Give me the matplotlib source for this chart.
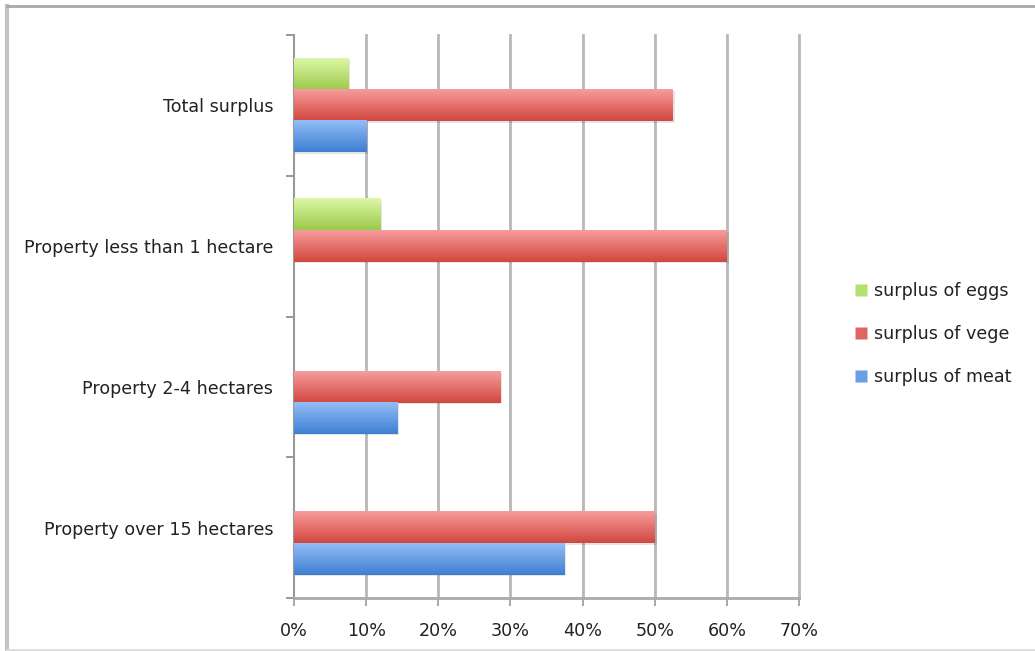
import numpy as np
import matplotlib
matplotlib.use("Agg")
import matplotlib.pyplot as plt
from matplotlib.patches import Rectangle
from matplotlib.colors import LinearSegmentedColormap
from matplotlib.lines import Line2D

categories = ["Total surplus", "Property less than 1 hectare",
              "Property 2-4 hectares", "Property over 15 hectares"]
series_names = ["surplus of eggs", "surplus of vege", "surplus of meat"]
eggs = [7.5, 12.0, 0.0, 0.0]
vege = [52.5, 60.0, 28.6, 50.0]
meat = [10.0, 0.0, 14.3, 37.5]
x_ticks = [0, 10, 20, 30, 40, 50, 60, 70]
x_tick_labels = [f"{t}%" for t in x_ticks]

# light (top) / dark (bottom) gradient ends for each series
grad = [("#dcf7a6", "#9cc94c"),
        ("#f79c9c", "#d2473f"),
        ("#93bdf7", "#3e7fd3")]
legend_colors = ["#b5df6e", "#e06464", "#6a9fe6"]

plt.rcParams['font.family'] = ['DejaVu Sans']
FS = 12.6

fig = plt.figure(figsize=(10.35, 6.51), dpi=100)
ax = fig.add_axes([294 / 1035, 1 - 598 / 651, (799 - 294) / 1035, (598 - 35) / 651])

n = len(categories)
bar_h = 1 / 4.5
# category centres from top to bottom
centers = np.arange(n)[::-1] + 0.5
data = [eggs, vege, meat]
offsets = [bar_h, 0, -bar_h]

for s, vals in enumerate(data):
    cmap = LinearSegmentedColormap.from_list(f"g{s}", [grad[s][1], grad[s][0]])
    for i, v in enumerate(vals):
        if v <= 0:
            continue
        y0 = centers[i] + offsets[s] - bar_h / 2
        # soft shadow
        ax.add_patch(Rectangle((0, y0 - 0.012), v + 0.25, bar_h, facecolor="#000000",
                               alpha=0.10, edgecolor="none", zorder=2))
        grd = np.linspace(0, 1, 64).reshape(-1, 1)
        ax.imshow(grd, cmap=cmap, origin="lower", aspect="auto",
                  extent=(0, v, y0, y0 + bar_h), zorder=3, interpolation="bilinear")

ax.set_xlim(0, 70)
ax.set_ylim(0, n)

for t in x_ticks[1:]:
    ax.axvline(t, color="#b8b8b8", lw=2.0, zorder=1, clip_on=False)

ax.set_xticks(x_ticks)
ax.set_xticklabels(x_tick_labels, fontsize=FS, color="#222222")
ax.set_yticks(np.arange(n + 1))
ax.set_yticklabels([])
ax.set_yticks(centers, minor=True)
ax.set_yticklabels(categories, minor=True, fontsize=FS, color="#222222")
ax.tick_params(axis="y", which="minor", length=0, pad=15)
ax.tick_params(axis="y", which="major", length=6, width=1.2, color="#888888")
ax.tick_params(axis="x", length=6, width=1.2, color="#999999", pad=11)

for side in ["top", "right"]:
    ax.spines[side].set_visible(False)
ax.spines["left"].set_color("#999999")
ax.spines["left"].set_linewidth(1.5)
ax.spines["bottom"].set_color("#aaaaaa")
ax.spines["bottom"].set_linewidth(2.0)

handles = [Line2D([], [], marker="s", linestyle="none", markersize=8,
                  markerfacecolor=c, markeredgecolor="none") for c in legend_colors]
fig.legend(handles, series_names, loc="center left",
           bbox_to_anchor=(836 / 1035, 1 - 334 / 651), frameon=False,
           fontsize=FS, labelspacing=1.45, handletextpad=0.3, handlelength=1.0,
           labelcolor="#222222")

# outer frame
fig.add_artist(Line2D([7 / 1035, 7 / 1035], [1 - 6 / 651, 1 - 650 / 651],
                      color="#c4c4c4", lw=3, transform=fig.transFigure))
fig.add_artist(Line2D([7 / 1035, 1.0], [1 - 6 / 651, 1 - 6 / 651],
                      color="#a8a8a8", lw=2, transform=fig.transFigure))
fig.add_artist(Line2D([7 / 1035, 1.0], [1 - 650 / 651, 1 - 650 / 651],
                      color="#dddddd", lw=2, transform=fig.transFigure))

fig.savefig("out.png", dpi=100)
